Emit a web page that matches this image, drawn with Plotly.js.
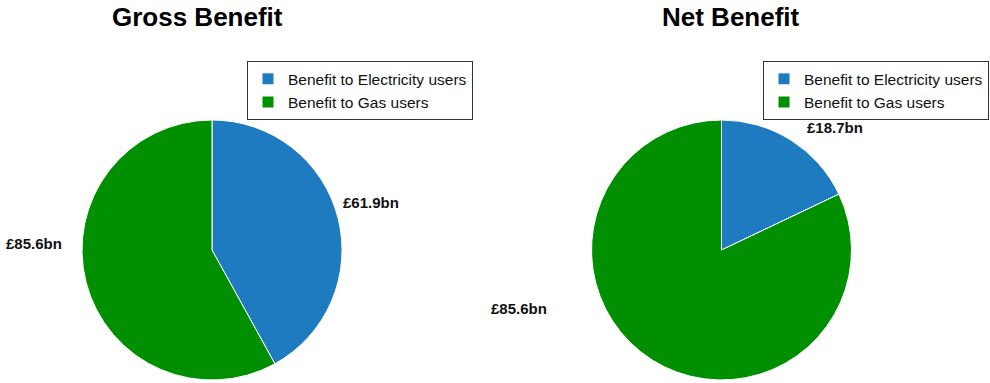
<!DOCTYPE html>
<html>
<head>
<meta charset="utf-8">
<script src="https://cdn.plot.ly/plotly-3.0.1.min.js"></script>
<style>html,body{margin:0;padding:0;background:#fff;}#chart{width:990px;height:383px;}</style>
</head>
<body>
<div id="chart"></div>
<script>
const categories = ['Benefit to Electricity users', 'Benefit to Gas users'];
const grossValues = [61.9, 85.6];
const netValues = [18.7, 85.6];
const panelTitles = ['Gross Benefit', 'Net Benefit'];
const sliceColors = ['#1f7bbf', '#008f00'];

const fmt = v => '£' + v.toFixed(1) + 'bn';

const pieCommon = {
  type: 'pie',
  sort: false,
  direction: 'clockwise',
  rotation: 0,
  textinfo: 'none',
  hoverinfo: 'label+value',
  marker: {colors: sliceColors, line: {color: '#ffffff', width: 1}}
};

// second pie gets an invisible suffix so its legend entries are kept separately
const traces = [
  Object.assign({}, pieCommon, {labels: categories, values: grossValues, domain: {x: [0.0828, 0.3455], y: [0.0078, 0.6867]}, legend: 'legend'}),
  Object.assign({}, pieCommon, {labels: categories.map(c => c + '\u200b'), values: netValues, domain: {x: [0.5975, 0.8601], y: [0.0078, 0.6867]}, legend: 'legend2'})
];

const labelFont = {family: 'Liberation Sans, Arial, sans-serif', size: 15, color: '#111'};
const titleFont = {family: 'Liberation Sans, Arial, sans-serif', size: 26, color: '#000'};

const annotations = [
  {text: '<b>' + panelTitles[0] + '</b>', x: 0.199, y: 0.955, font: titleFont},
  {text: '<b>' + panelTitles[1] + '</b>', x: 0.738, y: 0.955, font: titleFont},
  {text: '<b>' + fmt(grossValues[0]) + '</b>', x: 0.3747, y: 0.470, font: labelFont},
  {text: '<b>' + fmt(grossValues[1]) + '</b>', x: 0.0343, y: 0.3655, font: labelFont},
  {text: '<b>' + fmt(netValues[0]) + '</b>', x: 0.8434, y: 0.6684, font: labelFont},
  {text: '<b>' + fmt(netValues[1]) + '</b>', x: 0.5242, y: 0.1958, font: labelFont}
].map(a => Object.assign({xref: 'paper', yref: 'paper', showarrow: false, xanchor: 'center', yanchor: 'middle'}, a));

const legendCommon = {
  bgcolor: '#ffffff',
  bordercolor: '#333333',
  borderwidth: 1,
  font: {family: 'Liberation Sans, Arial, sans-serif', size: 15.5, color: '#111'},
  yanchor: 'top',
  y: 0.84,
  tracegroupgap: 0,
  itemwidth: 30
};

const layout = {
  width: 990,
  height: 383,
  margin: {l: 0, r: 0, t: 0, b: 0},
  paper_bgcolor: '#ffffff',
  showlegend: true,
  legend: Object.assign({}, legendCommon, {x: 0.2495, xanchor: 'left'}),
  legend2: Object.assign({}, legendCommon, {x: 0.999, xanchor: 'right'}),
  annotations: annotations
};

Plotly.newPlot('chart', traces, layout, {displayModeBar: false, responsive: false});
</script>
</body>
</html>
